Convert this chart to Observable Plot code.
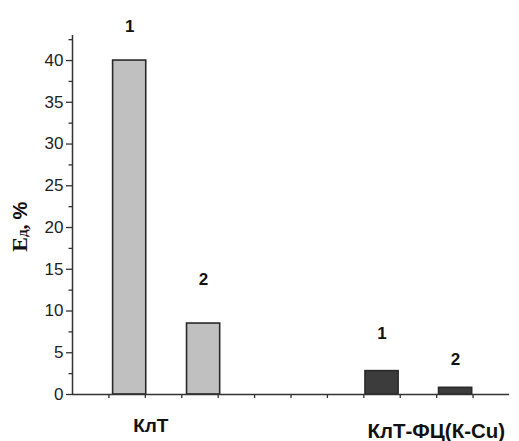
<!DOCTYPE html>
<html><head><meta charset="utf-8">
<script src="https://cdn.jsdelivr.net/npm/d3@7"></script>
<script src="https://cdn.jsdelivr.net/npm/@observablehq/plot@0.6"></script>
<style>
html,body{margin:0;padding:0;background:#fff;}
#chart{width:519px;height:441px;}
</style></head>
<body><div id="chart"></div>
<script>
// data
const groups = ["КлТ", "КлТ", "КлТ-ФЦ(К-Cu)", "КлТ-ФЦ(К-Cu)"];
const barLabels = ["1", "2", "1", "2"];
const barSlots = [1.57, 3.6, 8.5, 10.52];       // bar centres on the x axis (data units)
const values = [40, 8.5, 2.8, 0.8];
const labelValues = [44.1, 13.8, 7.3, 4.2];     // heights of the "1"/"2" annotations
const groupNames = ["КлТ", "КлТ-ФЦ(К-Cu)"];
const groupSlots = [2.15, 8.1];
const yTicks = [0, 5, 10, 15, 20, 25, 30, 35, 40];
const yMinorTicks = [2.5, 7.5, 12.5, 17.5, 22.5, 27.5, 32.5, 37.5, 42.5];
const xTicks = [1, 2, 3, 4, 5, 6, 7, 8, 9, 10, 11];

const half = 0.455;
const bars = values.map((v, i) => ({group: groups[i], label: barLabels[i], x: barSlots[i], v, ly: labelValues[i]}));
const fillFor = g => g === "КлТ" ? "#c0c0c0" : "#3c3c3c";

const plot = Plot.plot({
  width: 519, height: 441,
  marginLeft: 72, marginRight: 10, marginTop: 35, marginBottom: 47,
  style: {fontFamily: "Liberation Sans, Arial, sans-serif", color: "#222", background: "#fff"},
  x: {domain: [0, 12], axis: null},
  y: {domain: [0, 43], axis: null},
  marks: [
    Plot.rectY(bars, {x1: d => d.x - half, x2: d => d.x + half, y1: 0, y2: "v",
      fill: d => fillFor(d.group), stroke: "#2a2a2a", strokeWidth: 1.6}),
    Plot.axisY({ticks: yTicks, tickSize: 6, tickPadding: 3, fontSize: 17, stroke: "#333", strokeWidth: 1.3, label: null}),
    Plot.axisY({ticks: yMinorTicks, tickSize: 3.5, tickFormat: () => "", stroke: "#333", strokeWidth: 1.3, label: null}),
    Plot.axisX({ticks: xTicks, tickSize: 4, tickFormat: () => "", stroke: "#333", strokeWidth: 1.3, label: null}),
    Plot.ruleX([0], {stroke: "#333", strokeWidth: 1.5}),
    Plot.ruleY([0], {stroke: "#333", strokeWidth: 1.5}),
    Plot.text(bars, {x: "x", y: "ly", text: "label", fontSize: 17, fontWeight: "bold", fill: "#111"}),
    Plot.text([groupNames[0]], {x: () => groupSlots[0], text: d => d, frameAnchor: "bottom", lineAnchor: "middle",
      textAnchor: "middle", dy: 31, fontSize: 19, fontWeight: "bold", fill: "#111"}),
    Plot.text([groupNames[1]], {x: () => groupSlots[1], text: d => d, frameAnchor: "bottom", lineAnchor: "middle",
      textAnchor: "start", dy: 37, fontSize: 20.5, fontWeight: "bold", fill: "#111"}),
    Plot.text(["Eд, %"], {frameAnchor: "left", y: 17.1, dx: -52, rotate: -90, text: d => d,
      fontSize: 20, fontWeight: "bold", fill: "#111"})
  ]
});
document.getElementById("chart").appendChild(plot);

// style the Y label: serif "Eд," with a small "д", sans "%"
d3.select(plot).selectAll("text").filter(function(){ return this.textContent === "Eд, %"; }).each(function(){
  const t = d3.select(this);
  t.text(null);
  t.append("tspan").attr("font-family", "Liberation Serif, Times New Roman, serif").attr("font-size", 22).text("E");
  t.append("tspan").attr("font-family", "Liberation Serif, Times New Roman, serif").attr("font-size", 15).text("д");
  t.append("tspan").attr("font-family", "Liberation Serif, Times New Roman, serif").text(", ");
  t.append("tspan").attr("font-family", "Liberation Sans, Arial, sans-serif").text("%");
});
</script>
</body></html>
